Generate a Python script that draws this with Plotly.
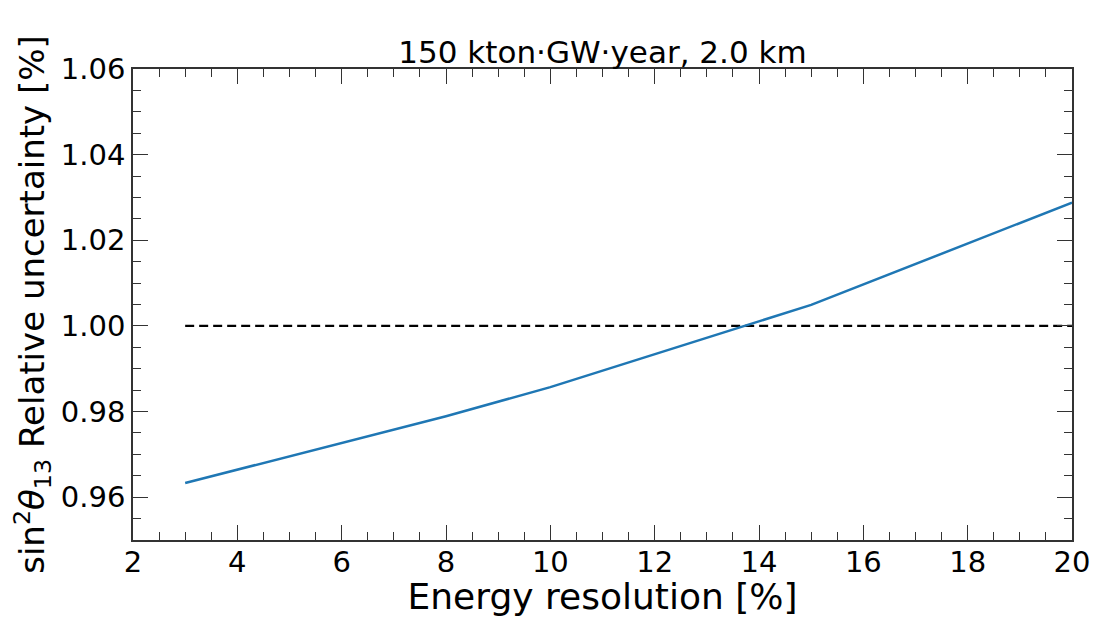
import plotly.graph_objects as go

resolution = [3, 8, 10, 15, 20]
rel_unc = [0.9633, 0.9789, 0.9857, 1.0049, 1.0288]
ref_x = [3, 20]
ref_y = [1.0, 1.0]

fig = go.Figure()
fig.add_trace(go.Scatter(x=ref_x, y=ref_y, mode="lines",
                         line=dict(color="black", width=2.2, dash="9px,5px"),
                         showlegend=False))
fig.add_trace(go.Scatter(x=resolution, y=rel_unc, mode="lines",
                         line=dict(color="#1f77b4", width=2.5),
                         showlegend=False))

font = "DejaVu Sans"
axis_common = dict(
    showgrid=False, zeroline=False, showline=True, linecolor="#333333", linewidth=1.5,
    mirror="allticks", ticks="inside", ticklen=15, tickwidth=1.3, tickcolor="#333333",
    tickfont=dict(family=font, size=29, color="black"), automargin=False,
    ticklabeloverflow="allow",
)
fig.update_layout(
    width=1093, height=617,
    margin=dict(l=133, r=21, t=69, b=77),
    plot_bgcolor="white", paper_bgcolor="white",
    title=dict(text="150 kton·GW·year, 2.0 km", x=0.5, xanchor="center", xref="paper",
               y=1, yref="paper", yanchor="bottom", pad=dict(b=6),
               font=dict(family=font, size=31, color="black")),
    xaxis=dict(range=[2, 20], dtick=2, tick0=2, ticklabelstandoff=-5,
               minor=dict(ticks="inside", dtick=0.5, ticklen=8, tickwidth=1.1, tickcolor="#333333"),
               title=dict(text="Energy resolution [%]", standoff=12,
                          font=dict(family=font, size=36, color="black")),
               **axis_common),
    yaxis=dict(range=[0.95, 1.06], dtick=0.02, tick0=0.96, tickformat=".2f",
               minor=dict(ticks="inside", dtick=0.005, ticklen=8, tickwidth=1.1, tickcolor="#333333"),
               title=dict(text="sin<sup>2</sup><i>θ</i><sub>13</sub> Relative uncertainty [%]", standoff=6,
                          font=dict(family=font, size=34, color="black")),
               **axis_common),
)
fig.write_html(
    "out.html",
    config={"displayModeBar": False},
    post_script=("document.body.style.margin='0';"
                 "document.documentElement.style.overflow='hidden';"
                 "document.body.style.overflow='hidden';"),
)
